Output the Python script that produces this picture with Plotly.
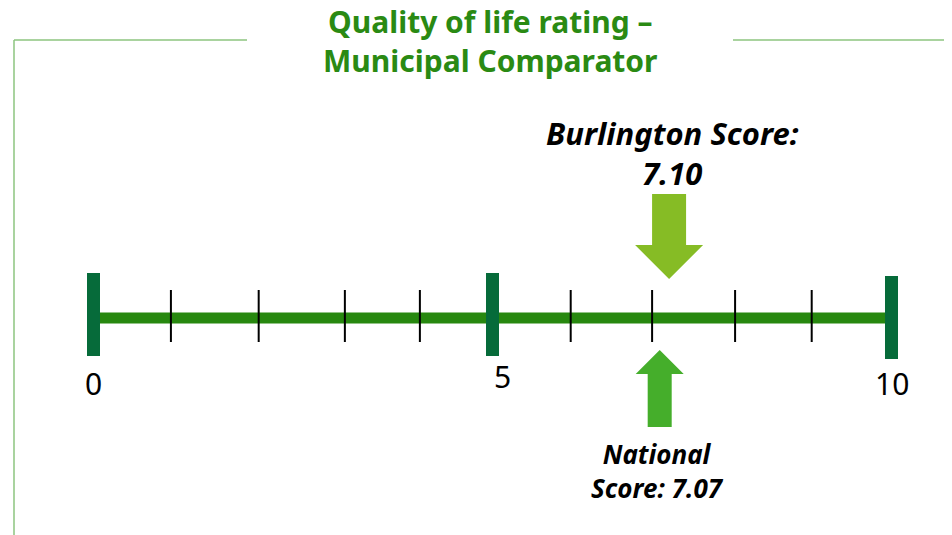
import plotly.graph_objects as go

# ---- data ----
scale_min = 0
scale_max = 10
major_ticks = [0, 5, 10]
major_labels = ["0", "5", "10"]
minor_ticks = [0.97, 2.07, 3.15, 4.09, 5.98, 7.0, 8.04, 9.0]
burlington_score = 7.10
national_score = 7.07
title_lines = ["Quality of life rating –", "Municipal Comparator"]

# page is offset by the 8px body margin; work in page pixels
PAGE_W, PAGE_H = 952, 535
OFF = 8
W, H = PAGE_W - OFF, PAGE_H - OFF
PX0, PXU = 93.5, 79.8  # page pixel of 0, pixels per unit
xr = [(OFF - PX0) / PXU, (OFF + W - PX0) / PXU]


def dx(px):
    return px / PXU


def xv(px):
    return (px - PX0) / PXU


fig = go.Figure()
fig.add_trace(go.Scatter(x=[0], y=[300], mode="markers", marker=dict(opacity=0),
                         hoverinfo="skip", showlegend=False))

shapes = []
# frame
frame_col = "#8cc47f"
shapes.append(dict(type="line", xref="x", yref="y", x0=xv(14), x1=xv(247), y0=40, y1=40, line=dict(color=frame_col, width=1.5)))
shapes.append(dict(type="line", xref="x", yref="y", x0=xv(733), x1=xv(PAGE_W + 2), y0=40, y1=40, line=dict(color=frame_col, width=1.5)))
shapes.append(dict(type="line", xref="x", yref="y", x0=xv(14), x1=xv(14), y0=40, y1=PAGE_H + 2, line=dict(color=frame_col, width=1.5)))

# main line
shapes.append(dict(type="line", xref="x", yref="y", x0=scale_min, x1=scale_max, y0=318, y1=318,
                   line=dict(color="#27880f", width=11)))

# minor ticks
for v in minor_ticks:
    shapes.append(dict(type="line", xref="x", yref="y", x0=v, x1=v, y0=290, y1=342,
                       line=dict(color="black", width=2)))

# major ticks
for v in major_ticks:
    y0, y1 = (276, 359) if v == scale_max else (273, 356)
    shapes.append(dict(type="rect", xref="x", yref="y", x0=v - dx(6.5), x1=v + dx(6.5), y0=y0, y1=y1,
                       line=dict(width=0), fillcolor="#066b3a"))

# Burlington arrow (down)
b = burlington_score + dx(9)
path_b = (f"M {b-dx(17)},194 L {b+dx(17)},194 L {b+dx(17)},245 L {b+dx(34)},245 "
          f"L {b},279 L {b-dx(34)},245 L {b-dx(17)},245 Z")
shapes.append(dict(type="path", xref="x", yref="y", path=path_b, fillcolor="#86bc25", line=dict(width=0)))

# National arrow (up)
n = national_score + dx(2)
path_n = (f"M {n},350 L {n+dx(24)},374 L {n+dx(12)},374 L {n+dx(12)},427 "
          f"L {n-dx(12)},427 L {n-dx(12)},374 L {n-dx(24)},374 Z")
shapes.append(dict(type="path", xref="x", yref="y", path=path_n, fillcolor="#45ae2b", line=dict(width=0)))

annotations = []
title_font = dict(family="Noto Sans", size=30, color="#2a8a13")
annotations.append(dict(text=f"<b>{title_lines[0]}<br>{title_lines[1]}</b>", xref="x", yref="y",
                        x=xv(490.5), y=41, showarrow=False, font=title_font))

for v, lab in zip(major_ticks, major_labels):
    shift = 10 if v == 5 else 0
    yy = 376 if v == 5 else 383
    annotations.append(dict(text=lab, xref="x", yref="y", x=v, y=yy, xshift=shift, showarrow=False,
                            font=dict(family="Noto Sans", size=30, color="black")))

bfont = dict(family="Noto Sans", size=31, color="black")
annotations.append(dict(text=f"<b><i>Burlington Score:<br>{burlington_score:.2f}</i></b>", xref="x", yref="y",
                        x=burlington_score, xshift=12, y=153, showarrow=False, font=bfont))

nfont = dict(family="Noto Sans", size=26, color="black")
annotations.append(dict(text=f"<b><i>National<br>Score: {national_score:.2f}</i></b>", xref="x", yref="y",
                        x=national_score, y=470.5, showarrow=False, font=nfont))

fig.update_layout(
    width=W, height=H, margin=dict(l=0, r=0, t=0, b=0),
    paper_bgcolor="white", plot_bgcolor="white",
    xaxis=dict(range=xr, visible=False, fixedrange=True),
    yaxis=dict(range=[PAGE_H, OFF], visible=False, fixedrange=True),
    shapes=shapes, annotations=annotations, showlegend=False,
)
fig.write_html("out.html")
